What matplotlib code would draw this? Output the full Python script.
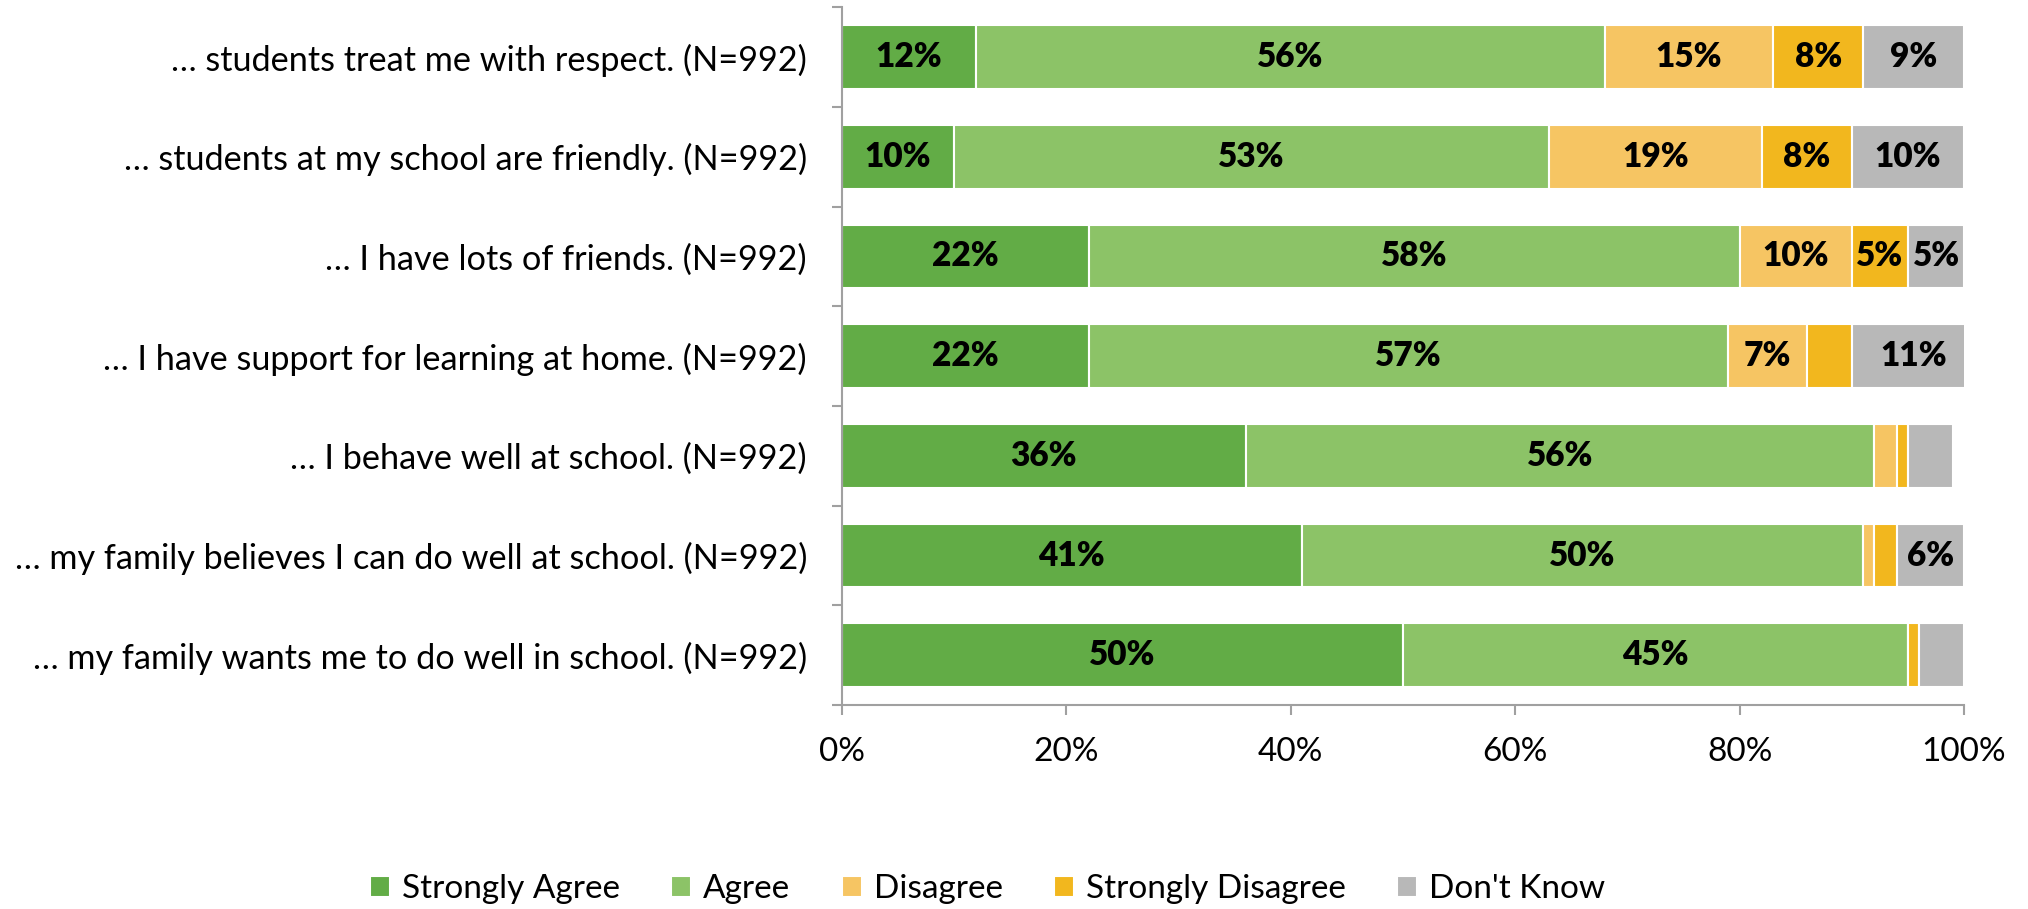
import matplotlib.pyplot as plt
import numpy as np
from matplotlib.ticker import FixedLocator

plt.rcParams['font.family'] = ['Lato', 'DejaVu Sans']

# rows top to bottom
questions = [
    '… students treat me with respect. (N=992)',
    '… students at my school are friendly. (N=992)',
    '… I have lots of friends. (N=992)',
    '… I have support for learning at home. (N=992)',
    '… I behave well at school. (N=992)',
    '… my family believes I can do well at school. (N=992)',
    '… my family wants me to do well in school. (N=992)',
]
strongly_agree = [12, 10, 22, 22, 36, 41, 50]
agree = [56, 53, 58, 57, 56, 50, 45]
disagree = [15, 19, 10, 7, 2, 1, 0]
strongly_disagree = [8, 8, 5, 4, 1, 2, 1]
dont_know = [9, 10, 5, 11, 4, 6, 4]

series = [
    ('Strongly Agree', strongly_agree, '#62AC46'),
    ('Agree', agree, '#8CC367'),
    ('Disagree', disagree, '#F6C563'),
    ('Strongly Disagree', strongly_disagree, '#F2B71E'),
    ("Don't Know", dont_know, '#B8B8B8'),
]

fig = plt.figure(figsize=(20.28, 9.09), dpi=100)
ax = fig.add_axes([0.415, 0.2244, 0.5535, 0.7676])

y = np.arange(len(questions))
left = np.zeros(len(questions))
for name, vals, col in series:
    vals = np.array(vals, dtype=float)
    ax.barh(y, vals, left=left, height=0.64, color=col, edgecolor='white',
            linewidth=1.5, label=name)
    for yi, (l, v) in enumerate(zip(left, vals)):
        if v >= 5:
            ax.text(l + v / 2, yi, f'{int(v)}%', ha='center', va='center',
                    fontsize=24, fontweight='heavy', color='black')
    left += vals

ax.set_xlim(0, 100)
ax.set_ylim(len(questions) - 0.5, -0.5)
ax.set_xticks(np.arange(0, 101, 20))
ax.set_xticklabels([f'{v}%' for v in range(0, 101, 20)], fontsize=24)
ax.set_yticks(y)
ax.set_yticklabels(questions, fontsize=24.7)
ax.tick_params(axis='y', length=0, pad=25)
ax.yaxis.set_minor_locator(FixedLocator(np.arange(-0.5, len(questions), 1)))
ax.tick_params(axis='y', which='minor', length=7, color='#A0A0A0', width=1.5)
ax.tick_params(axis='x', length=7, color='#A0A0A0', width=1.5, pad=16)

for s in ['top', 'right']:
    ax.spines[s].set_visible(False)
for s in ['left', 'bottom']:
    ax.spines[s].set_color('#A0A0A0')
    ax.spines[s].set_linewidth(1.5)

fig.legend(loc='center', bbox_to_anchor=(0.487, 0.022), ncol=5, frameon=False,
           fontsize=24, handlelength=0.6, handleheight=0.6, handletextpad=0.35,
           columnspacing=1.55)

fig.savefig('out.png', dpi=100)
